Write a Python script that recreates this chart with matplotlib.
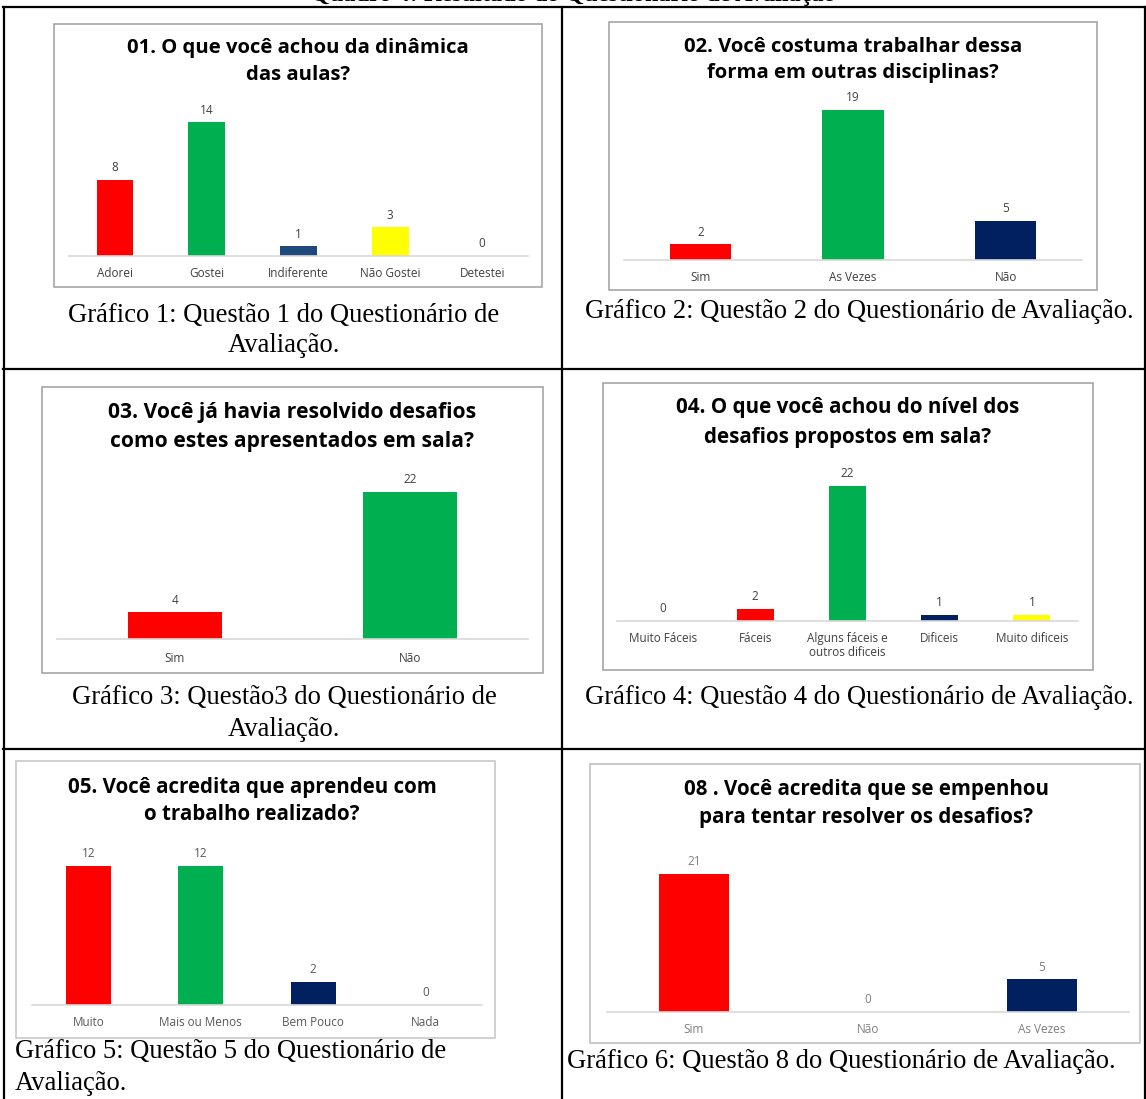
import matplotlib
matplotlib.use("Agg")
import matplotlib.pyplot as plt
from matplotlib.patches import Rectangle
from matplotlib.lines import Line2D
import numpy as np

W, H = 1146, 1099

# ---------------- data ----------------
q1_title = ["01. O que você achou da dinâmica", "das aulas?"]
q1_cats = ["Adorei", "Gostei", "Indiferente", "Não Gostei", "Detestei"]
q1_vals = [8, 14, 1, 3, 0]
q1_cols = ["#FF0000", "#00B050", "#1F497D", "#FFFF00", "#FFFFFF"]

q2_title = ["02. Você costuma trabalhar dessa", "forma em outras disciplinas?"]
q2_cats = ["Sim", "As Vezes", "Não"]
q2_vals = [2, 19, 5]
q2_cols = ["#FF0000", "#00B050", "#002060"]

q3_title = ["03. Você já havia resolvido desafios", "como estes apresentados em sala?"]
q3_cats = ["Sim", "Não"]
q3_vals = [4, 22]
q3_cols = ["#FF0000", "#00B050"]

q4_title = ["04. O que você achou do nível dos", "desafios propostos em sala?"]
q4_cats = ["Muito Fáceis", "Fáceis", "Alguns fáceis e\noutros dificeis", "Dificeis", "Muito dificeis"]
q4_vals = [0, 2, 22, 1, 1]
q4_cols = ["#FFFFFF", "#FF0000", "#00B050", "#002060", "#FFFF00"]

q5_title = ["05. Você acredita que aprendeu com", "o trabalho realizado?"]
q5_cats = ["Muito", "Mais ou Menos", "Bem Pouco", "Nada"]
q5_vals = [12, 12, 2, 0]
q5_cols = ["#FF0000", "#00B050", "#002060", "#FFFFFF"]

q6_title = ["08 . Você acredita que se empenhou", "para tentar resolver os desafios?"]
q6_cats = ["Sim", "Não", "As Vezes"]
q6_vals = [21, 0, 5]
q6_cols = ["#FF0000", "#FFFFFF", "#002060"]

captions = [
    ["Gráfico 1: Questão 1 do Questionário de", "Avaliação."],
    ["Gráfico 2: Questão 2 do Questionário de Avaliação."],
    ["Gráfico 3: Questão3 do Questionário de", "Avaliação."],
    ["Gráfico 4: Questão 4 do Questionário de Avaliação."],
    ["Gráfico 5: Questão 5 do Questionário de", "Avaliação."],
    ["Gráfico 6: Questão 8 do Questionário de Avaliação."],
]
header = "Quadro 4: Resultado do Questionário de Avaliação"

# ---------------- layout helpers ----------------
fig = plt.figure(figsize=(W / 100, H / 100), dpi=100)
fig.patch.set_facecolor("white")

def fx(x):
    return x / W

def fy(y):
    return 1 - y / H

SANS = ["Open Sans", "DejaVu Sans"]
SERIF = ["Liberation Serif", "DejaVu Serif"]

def chart(box, title, title_cx, title_ys, base_x0, base_x1, base_y, pxu,
          cats, vals, cols, box_color="#A6A6A6", txt_color="#404040", pad=8,
          title_fs=14.8):
    bx0, by0, bx1, by1 = box
    fig.patches.append(Rectangle((fx(bx0), fy(by1)), (bx1 - bx0) / W, (by1 - by0) / H,
                                 transform=fig.transFigure, facecolor="white",
                                 edgecolor=box_color, linewidth=1.2, zorder=1))
    for line, ty in zip(title, title_ys):
        fig.text(fx(title_cx), fy(ty), line, ha="center", va="center",
                 fontsize=title_fs, fontweight="bold", family=SANS, color="black", zorder=5)
    ymax = max(vals) * 1.12
    hpx = ymax * pxu
    ax = fig.add_axes([fx(base_x0), fy(base_y), (base_x1 - base_x0) / W, hpx / H])
    ax.set_zorder(3)
    ax.patch.set_alpha(0)
    n = len(cats)
    x = np.arange(n)
    bars = ax.bar(x, vals, width=0.4, color=cols, zorder=2)
    ax.set_xlim(-0.5, n - 0.5)
    ax.set_ylim(0, ymax)
    for s in ["top", "left", "right"]:
        ax.spines[s].set_visible(False)
    ax.spines["bottom"].set_color("#D9D9D9")
    ax.spines["bottom"].set_linewidth(1.2)
    ax.set_yticks([])
    ax.set_xticks(x)
    ax.set_xticklabels(cats, fontsize=8.5, color=txt_color, family=SANS, linespacing=1.1)
    ax.tick_params(axis="x", length=0, pad=pad)
    ax.bar_label(bars, labels=[str(v) for v in vals], padding=4, fontsize=8.5,
                 color=txt_color, family=SANS)
    return ax

# Chart 1
chart((54, 24, 542, 287), q1_title, 298, (48, 75), 69, 528, 256, 9.55,
      q1_cats, q1_vals, q1_cols, title_fs=14.6)
# Chart 2
chart((609, 22, 1097, 290), q2_title, 853, (47, 73), 624, 1082, 260, 7.9,
      q2_cats, q2_vals, q2_cols, title_fs=14.6)
# Chart 3
chart((42, 387, 543, 673), q3_title, 292, (412, 441), 57, 528, 639, 6.68,
      q3_cats, q3_vals, q3_cols, pad=9, title_fs=15.1)
# Chart 4
chart((603, 383, 1093, 670), q4_title, 848, (408, 437), 617, 1078, 621, 6.14,
      q4_cats, q4_vals, q4_cols, title_fs=14.9)
# Chart 5
chart((16, 761, 495, 1038), q5_title, 252, (787, 815), 32, 482, 1005, 11.6,
      q5_cats, q5_vals, q5_cols, box_color="#C8C8C8", txt_color="#595959")
# Chart 6
chart((590, 764, 1140, 1043), q6_title, 866, (790, 818), 607, 1129, 1012, 6.57,
      q6_cats, q6_vals, q6_cols, box_color="#C0C0C0", txt_color="#7F7F7F")

# ---------------- captions ----------------
cap_fs = 19.2
def caption(lines, x, ys, ha="center"):
    for line, y in zip(lines, ys):
        fig.text(fx(x), fy(y), line, ha=ha, va="center", fontsize=cap_fs,
                 family=SERIF, color="black", zorder=5)

caption(captions[0], 284, (316, 346))
caption(captions[1], 859, (311,))
caption(captions[2], 284, (698, 729))
caption(captions[3], 859, (698,))
caption(captions[4], 15, (1052, 1083), ha="left")
caption(captions[5], 567, (1061,), ha="left")

# header (partly cut off at the top, as in the source page)
fig.text(0.5, fy(-4), header, ha="center", va="center", fontsize=17.5,
         fontweight="bold", family=SERIF, color="black")

# ---------------- table grid ----------------
lw = 1.6
def hline(y, x0, x1):
    fig.lines.append(Line2D([fx(x0), fx(x1)], [fy(y), fy(y)], transform=fig.transFigure,
                            color="black", linewidth=lw, zorder=6))

def vline(x, y0, y1):
    fig.lines.append(Line2D([fx(x), fx(x)], [fy(y0), fy(y1)], transform=fig.transFigure,
                            color="black", linewidth=lw, zorder=6))

hline(7, 3, 1146)
hline(369, 3, 1146)
hline(749, 3, 1146)
vline(4, 7, 1099)
vline(562, 7, 1099)
vline(1145, 7, 1099)

fig.savefig("out.png", dpi=100, facecolor="white")
